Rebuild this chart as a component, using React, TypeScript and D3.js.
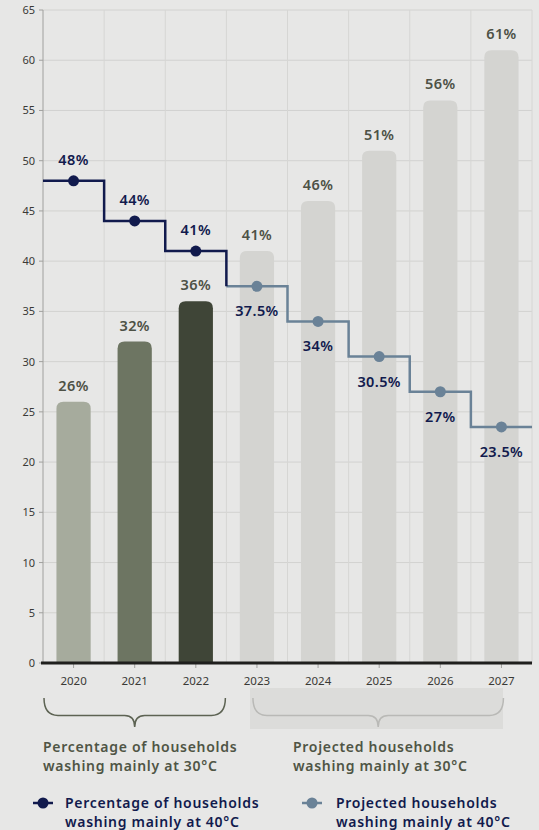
import { useRef, useEffect } from 'react'
import * as d3 from 'd3'

const years = ['2020', '2021', '2022', '2023', '2024', '2025', '2026', '2027']
const washing30 = [26, 32, 36, 41, 46, 51, 56, 61]
const actualYears = ['2020', '2021', '2022']
const washing40 = [48, 44, 41]
const projectedYears = ['2023', '2024', '2025', '2026', '2027']
const projected40 = [37.5, 34, 30.5, 27, 23.5]
const yTicks = [0, 5, 10, 15, 20, 25, 30, 35, 40, 45, 50, 55, 60, 65]
const barColors = ['#a6ab9d', '#6d7562', '#3f4537', '#d4d4d1', '#d4d4d1', '#d4d4d1', '#d4d4d1', '#d4d4d1']

const WIDTH = 539
const HEIGHT = 830
const FONT = '"Noto Sans", Lato, sans-serif'
const NAVY = '#111a4d'
const STEEL = '#6a8297'
const OLIVE = '#4f5545'

export default function App() {
  const svgRef = useRef<SVGSVGElement>(null)

  useEffect(() => {
    if (!svgRef.current) return
    const svg = d3.select(svgRef.current)
    svg.selectAll('*').remove()

    const left = 43
    const right = 532
    const top = 10
    const bottom = 663

    const x = d3.scaleBand<string>().domain(years).range([left, right]).paddingInner(0).paddingOuter(0)
    const y = d3.scaleLinear().domain([0, 65]).range([bottom, top])
    const bw = x.step() * 0.56
    const cx = (d: string) => (x(d) ?? 0) + x.bandwidth() / 2

    svg.append('rect').attr('width', WIDTH).attr('height', HEIGHT).attr('fill', '#e7e7e6')

    // grid
    const g = svg.append('g')
    g.selectAll('.hgrid')
      .data(yTicks.slice(1))
      .join('line')
      .attr('x1', left).attr('x2', right)
      .attr('y1', (d) => y(d)).attr('y2', (d) => y(d))
      .attr('stroke', '#d2d2d0').attr('stroke-width', 1)
    g.selectAll('.vgrid')
      .data(years.slice(1).concat(['end']))
      .join('line')
      .attr('x1', (d) => (d === 'end' ? right : x(d) ?? 0))
      .attr('x2', (d) => (d === 'end' ? right : x(d) ?? 0))
      .attr('y1', top).attr('y2', bottom)
      .attr('stroke', '#d6d6d4').attr('stroke-width', 1)

    // bars with rounded tops
    const r = 7
    g.selectAll('.bar')
      .data(washing30)
      .join('path')
      .attr('d', (v, i) => {
        const x0 = cx(years[i]) - bw / 2
        const x1 = x0 + bw
        const yt = y(v)
        return `M${x0},${bottom} L${x0},${yt + r} Q${x0},${yt} ${x0 + r},${yt} L${x1 - r},${yt} Q${x1},${yt} ${x1},${yt + r} L${x1},${bottom} Z`
      })
      .attr('fill', (_, i) => barColors[i])

    g.selectAll('.barlabel')
      .data(washing30)
      .join('text')
      .attr('x', (_, i) => cx(years[i]))
      .attr('y', (v) => y(v) - 11)
      .attr('text-anchor', 'middle')
      .attr('font-family', FONT)
      .attr('font-weight', 600)
      .attr('font-size', 14.5)
      .attr('letter-spacing', 0.4)
      .attr('fill', '#4d5145')
      .text((v) => `${v}%`)

    // axes
    svg.append('line')
      .attr('x1', left).attr('x2', left).attr('y1', top).attr('y2', bottom)
      .attr('stroke', '#a0a09e').attr('stroke-width', 1)
    svg.selectAll('.ytick')
      .data(yTicks)
      .join('line')
      .attr('x1', left - 4).attr('x2', left)
      .attr('y1', (d) => y(d)).attr('y2', (d) => y(d))
      .attr('stroke', '#a0a09e')
    svg.selectAll('.ylabel')
      .data(yTicks)
      .join('text')
      .attr('x', left - 8)
      .attr('y', (d) => y(d) + 4)
      .attr('text-anchor', 'end')
      .attr('font-family', FONT)
      .attr('font-size', 11)
      .attr('fill', '#3a3a36')
      .text((d) => d)
    svg.selectAll('.xtick')
      .data(years)
      .join('line')
      .attr('x1', (d) => cx(d)).attr('x2', (d) => cx(d))
      .attr('y1', bottom).attr('y2', bottom + 5)
      .attr('stroke', '#a0a09e')
    svg.selectAll('.xlabel')
      .data(years)
      .join('text')
      .attr('x', (d) => cx(d))
      .attr('y', 685)
      .attr('text-anchor', 'middle')
      .attr('font-family', FONT)
      .attr('font-size', 11.5)
      .attr('fill', '#3a3a36')
      .text((d) => d)
    svg.append('line')
      .attr('x1', left - 2).attr('x2', right).attr('y1', bottom).attr('y2', bottom)
      .attr('stroke', '#1f1f1d').attr('stroke-width', 3)

    // step lines
    const stepPoints = (cats: string[], vals: number[]) => {
      const pts: [number, number][] = []
      cats.forEach((c, i) => {
        pts.push([x(c) ?? 0, y(vals[i])])
        pts.push([(x(c) ?? 0) + x.step(), y(vals[i])])
      })
      return pts
    }
    const line = d3.line()
    const actualPts = stepPoints(actualYears, washing40)
    actualPts.push([actualPts[actualPts.length - 1][0], y(projected40[0])])
    const projPts = stepPoints(projectedYears, projected40)

    svg.append('path').attr('d', line(projPts)).attr('fill', 'none').attr('stroke', STEEL).attr('stroke-width', 2.5)
    svg.append('path').attr('d', line(actualPts)).attr('fill', 'none').attr('stroke', NAVY).attr('stroke-width', 2.5)

    svg.selectAll('.dot40')
      .data(washing40)
      .join('circle')
      .attr('cx', (_, i) => cx(actualYears[i]))
      .attr('cy', (v) => y(v))
      .attr('r', 5.5)
      .attr('fill', NAVY)
    svg.selectAll('.dotproj')
      .data(projected40)
      .join('circle')
      .attr('cx', (_, i) => cx(projectedYears[i]))
      .attr('cy', (v) => y(v))
      .attr('r', 5.5)
      .attr('fill', STEEL)

    svg.selectAll('.lab40')
      .data(washing40)
      .join('text')
      .attr('x', (_, i) => cx(actualYears[i]))
      .attr('y', (v) => y(v) - 16)
      .attr('text-anchor', 'middle')
      .attr('font-family', FONT)
      .attr('font-weight', 600)
      .attr('font-size', 14.5)
      .attr('letter-spacing', 0.4)
      .attr('fill', NAVY)
      .text((v) => `${v}%`)
    svg.selectAll('.labproj')
      .data(projected40)
      .join('text')
      .attr('x', (_, i) => cx(projectedYears[i]))
      .attr('y', (v) => y(v) + 30)
      .attr('text-anchor', 'middle')
      .attr('font-family', FONT)
      .attr('font-weight', 600)
      .attr('font-size', 14.5)
      .attr('letter-spacing', 0.4)
      .attr('fill', NAVY)
      .text((v) => `${v}%`)

    // brackets
    const brace = (x0: number, x1: number, y0: number, y1: number) => {
      const mid = (x0 + x1) / 2
      const ym = y0 + (y1 - y0) * 0.6
      return `M${x0},${y0} Q${x0},${ym} ${x0 + 14},${ym} L${mid - 10},${ym} Q${mid},${ym} ${mid},${y1} Q${mid},${ym} ${mid + 10},${ym} L${x1 - 14},${ym} Q${x1},${ym} ${x1},${y0}`
    }
    const aStart = x('2020') ?? 0
    const aEnd = (x('2022') ?? 0) + x.step()
    svg.append('path')
      .attr('d', brace(aStart + 1, aEnd - 1, 698, 727))
      .attr('fill', 'none').attr('stroke', '#5d6353').attr('stroke-width', 1.5)

    svg.append('rect')
      .attr('x', 250).attr('y', 688).attr('width', 253).attr('height', 41)
      .attr('fill', '#dcdcda')
    svg.append('path')
      .attr('d', brace(cx('2023') - 4, cx('2027') + 2, 698, 727))
      .attr('fill', 'none').attr('stroke', '#b9b9b6').attr('stroke-width', 1.5)

    const textBlock = (tx: number, ty: number, lines: string[], color: string) => {
      const t = svg.append('text')
        .attr('font-family', FONT).attr('font-weight', 600).attr('font-size', 14)
        .attr('letter-spacing', 0.7)
        .attr('fill', color)
      lines.forEach((l, i) => t.append('tspan').attr('x', tx).attr('y', ty + i * 19).text(l))
    }
    textBlock(43, 752, ['Percentage of households', 'washing mainly at 30°C'], OLIVE)
    textBlock(293, 752, ['Projected households', 'washing mainly at 30°C'], OLIVE)

    // legend
    const legend = (lx: number, color: string, tx: number, lines: string[]) => {
      svg.append('line').attr('x1', lx - 10).attr('x2', lx + 10).attr('y1', 803).attr('y2', 803)
        .attr('stroke', color).attr('stroke-width', 2.5)
      svg.append('circle').attr('cx', lx).attr('cy', 803).attr('r', 5.5).attr('fill', color)
      textBlock(tx, 808, lines, NAVY)
    }
    legend(43, NAVY, 65, ['Percentage of households', 'washing mainly at 40°C'])
    legend(312, STEEL, 336, ['Projected households', 'washing mainly at 40°C'])
  }, [])

  return <svg ref={svgRef} width={WIDTH} height={HEIGHT} style={{ display: 'block', position: 'absolute', left: 0, top: 0 }} />
}
